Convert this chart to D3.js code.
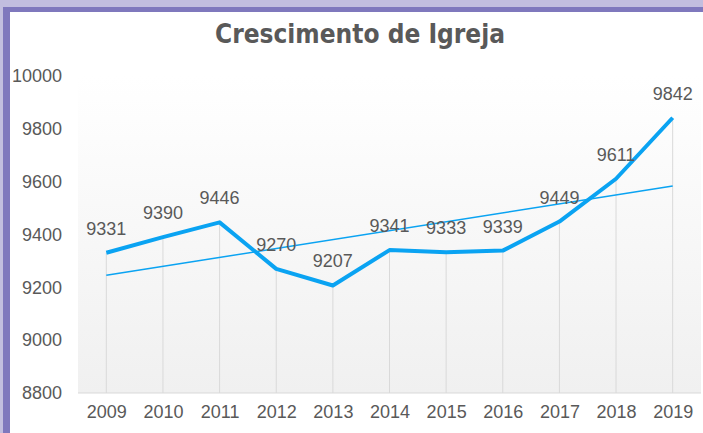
<!DOCTYPE html>
<html>
<head>
<meta charset="utf-8">
<script src="https://cdn.jsdelivr.net/npm/d3@7"></script>
<style>
  html, body { margin: 0; padding: 0; background: #fff; }
  svg { display: block; }
  text { font-family: "Liberation Sans", Arial, sans-serif; fill: #595959; }
</style>
</head>
<body>
<script>
var years = ['2009', '2010', '2011', '2012', '2013', '2014', '2015', '2016', '2017', '2018', '2019'];
var members = [9331, 9390, 9446, 9270, 9207, 9341, 9333, 9339, 9449, 9611, 9842];
var yTicks = [8800, 9000, 9200, 9400, 9600, 9800, 10000];

var W = 703, H = 433;
var margin = {top: 76, right: 2, bottom: 40, left: 78},
    width = W - margin.left - margin.right,
    height = 393 - margin.top;

var svg = d3.select('body').append('svg')
    .attr('width', W)
    .attr('height', H);

// purple frame (top + left only)
svg.append('rect').attr('x', 0).attr('y', 0).attr('width', W).attr('height', H).style('fill', '#c2bedf');
svg.append('rect').attr('x', 3).attr('y', 7).attr('width', W - 3).attr('height', H - 7).style('fill', '#7f78bd');
svg.append('rect').attr('x', 10).attr('y', 12).attr('width', W - 10).attr('height', H - 12).style('fill', '#ffffff');

var defs = svg.append('defs');
var grad = defs.append('linearGradient')
    .attr('id', 'bg')
    .attr('x1', 0).attr('y1', 0).attr('x2', 0).attr('y2', 1);
grad.append('stop').attr('offset', '0%').attr('stop-color', '#ffffff');
grad.append('stop').attr('offset', '100%').attr('stop-color', '#f0f0f0');

svg.append('text')
    .attr('x', 360)
    .attr('y', 43)
    .style('text-anchor', 'middle')
    .style('font-family', '"DejaVu Sans Condensed", "DejaVu Sans", sans-serif')
    .style('font-weight', 'bold')
    .style('font-size', '26px')
    .text('Crescimento de Igreja');

var g = svg.append('g')
    .attr('transform', 'translate(' + margin.left + ',' + margin.top + ')');

var xScale = d3.scalePoint().domain(years).range([0, width]).padding(0.5);
var yScale = d3.scaleLinear().domain([8800, 10000]).range([height, 0]);

g.append('rect')
    .attr('x', 0).attr('y', 0)
    .attr('width', width).attr('height', height)
    .style('fill', 'url(#bg)');

// drop lines
g.selectAll('.drop')
    .data(members)
  .enter().append('line')
    .attr('class', 'drop')
    .attr('x1', function(d, i) { return xScale(years[i]); })
    .attr('x2', function(d, i) { return xScale(years[i]); })
    .attr('y1', function(d) { return yScale(d); })
    .attr('y2', height)
    .style('stroke', '#d9d9d9')
    .style('stroke-width', 1);

// x axis
var xAxis = d3.axisBottom(xScale).tickSize(0).tickPadding(12);
var gx = g.append('g')
    .attr('transform', 'translate(0,' + height + ')')
    .call(xAxis);
gx.select('.domain').remove();
gx.selectAll('text').style('font-size', '18px').style('fill', '#595959')
    .style('font-family', '"Liberation Sans", Arial, sans-serif');
g.append('line')
    .attr('x1', 0).attr('x2', width)
    .attr('y1', height).attr('y2', height)
    .style('stroke', '#d9d9d9').style('stroke-width', 1);

// y axis
var yAxis = d3.axisLeft(yScale).tickValues(yTicks).tickSize(0).tickPadding(16).tickFormat(d3.format('d'));
var gy = g.append('g').call(yAxis);
gy.select('.domain').remove();
gy.selectAll('text').style('font-size', '18px').style('fill', '#595959')
    .style('font-family', '"Liberation Sans", Arial, sans-serif');

// linear trend (least squares over the series)
var xs = d3.range(members.length);
var mx = d3.mean(xs), my = d3.mean(members);
var slope = d3.sum(xs, function(x, i) { return (x - mx) * (members[i] - my); }) /
            d3.sum(xs, function(x) { return (x - mx) * (x - mx); });
var icpt = my - slope * mx;

g.append('line')
    .attr('x1', xScale(years[0]))
    .attr('x2', xScale(years[years.length - 1]))
    .attr('y1', yScale(icpt))
    .attr('y2', yScale(icpt + slope * (years.length - 1)))
    .style('stroke', '#0aa3f2')
    .style('stroke-width', 1.5);

var line = d3.line()
    .x(function(d, i) { return xScale(years[i]); })
    .y(function(d) { return yScale(d); });

g.append('path')
    .datum(members)
    .attr('d', line)
    .style('fill', 'none')
    .style('stroke', '#0aa3f2')
    .style('stroke-width', 4)
    .style('stroke-linejoin', 'round');

g.selectAll('.lbl')
    .data(members)
  .enter().append('text')
    .attr('class', 'lbl')
    .attr('x', function(d, i) { return xScale(years[i]); })
    .attr('y', function(d) { return yScale(d) - 18; })
    .style('text-anchor', 'middle')
    .style('font-size', '18px')
    .text(function(d) { return d; });
</script>
</body>
</html>
